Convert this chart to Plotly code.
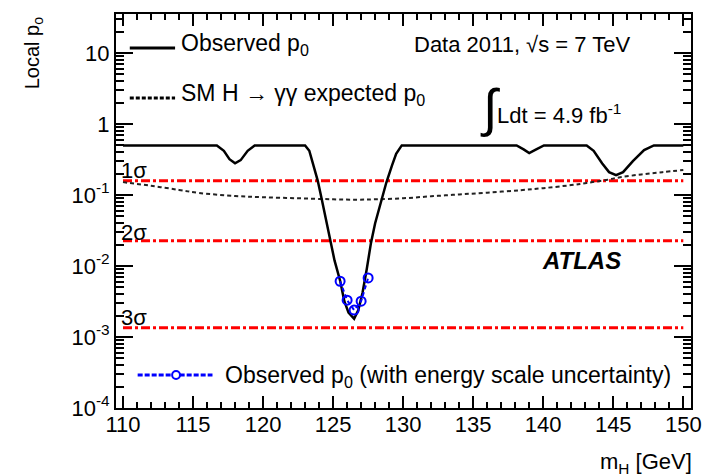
import plotly.graph_objects as go

# ---------------- data ----------------
obs_mass = [110.0, 116.7, 117.2, 117.6, 118.0, 118.4, 118.9, 119.4, 123.0, 123.3, 123.6,
            123.9, 124.2, 124.5, 124.8, 125.1, 125.5, 125.8, 126.1, 126.5, 126.8, 127.1,
            127.4, 127.7, 128.0, 128.4, 128.8, 129.2, 129.5, 129.9, 138.1, 138.6, 139.0,
            139.5, 140.05, 143.1, 143.6, 144.2, 144.7, 145.2, 145.7, 146.4, 147.2, 147.9,
            150.0]
obs_p0 = [0.5, 0.5, 0.42, 0.32, 0.28, 0.31, 0.42, 0.5, 0.5, 0.42, 0.26,
          0.16, 0.085, 0.045, 0.023, 0.012, 0.0062, 0.0032, 0.0022, 0.0018, 0.0024, 0.0042,
          0.009, 0.021, 0.04, 0.08, 0.15, 0.26, 0.38, 0.5, 0.5, 0.44, 0.39,
          0.44, 0.5, 0.5, 0.42, 0.28, 0.21, 0.19, 0.21, 0.3, 0.43, 0.5,
          0.5]

exp_mass = [110, 112, 114, 115.4, 118, 120, 122.5, 125, 126.7, 128, 130, 132, 134, 136,
            138.4, 140, 142, 143.1, 144.5, 145.5, 147, 148.5, 150]
exp_p0 = [0.152, 0.135, 0.118, 0.107, 0.097, 0.093, 0.090, 0.087, 0.086, 0.087, 0.090,
          0.096, 0.102, 0.108, 0.117, 0.125, 0.138, 0.148, 0.163, 0.178, 0.195, 0.21, 0.225]

ess_mass = [125.5, 126.0, 126.5, 127.0, 127.5]
ess_p0 = [0.0061, 0.0033, 0.0024, 0.0032, 0.0068]

sigma_labels = ["1σ", "2σ", "3σ"]
sigma_p0 = [0.1587, 0.02275, 0.00135]

x_ticks = [110, 115, 120, 125, 130, 135, 140, 145, 150]
y_ticks = [1e-4, 1e-3, 1e-2, 1e-1, 1, 10]
y_ticktext = ["10<sup>-4</sup>", "10<sup>-3</sup>", "10<sup>-2</sup>", "10<sup>-1</sup>", "1", "10"]
y_minor = [k * 10.0 ** e for e in range(-4, 2) for k in range(2, 10)]

FONT = "Liberation Sans, Arial, sans-serif"

fig = go.Figure()

# sigma lines
for p in sigma_p0:
    fig.add_trace(go.Scatter(x=[110, 150], y=[p, p], mode="lines",
                             line=dict(color="#ff0000", width=3, dash="9px,3px,3px,3px"),
                             showlegend=False, hoverinfo="skip"))

fig.add_trace(go.Scatter(x=exp_mass, y=exp_p0, mode="lines",
                         line=dict(color="#222222", width=2, dash="4px,3px", shape="spline"),
                         showlegend=False))
fig.add_trace(go.Scatter(x=obs_mass, y=obs_p0, mode="lines",
                         line=dict(color="#000000", width=2.5),
                         showlegend=False))
fig.add_trace(go.Scatter(x=ess_mass, y=ess_p0, mode="lines+markers",
                         line=dict(color="#0000ff", width=2, dash="4px,3px"),
                         marker=dict(symbol="circle-open", size=9, color="#0000ff",
                                     line=dict(width=2, color="#0000ff")),
                         showlegend=False))

# layout geometry (figure pixels -> plot-area fractions)
W, H = 714, 476
L, R, T, B = 116, 14, 14, 68
PW, PH = W - L - R, H - T - B
def px(x):
    return (x - L) / PW
def py(y):
    return (H - B - y) / PH

shapes = [
    dict(type="line", xref="paper", yref="paper", x0=px(130), x1=px(176), y0=py(48), y1=py(48),
         line=dict(color="black", width=3)),
    dict(type="line", xref="paper", yref="paper", x0=px(130), x1=px(176), y0=py(98), y1=py(98),
         line=dict(color="black", width=3, dash="4px,2px")),
    dict(type="line", xref="paper", yref="paper", x0=px(138), x1=px(214), y0=py(375), y1=py(375),
         line=dict(color="#0000ff", width=3, dash="5px,2px")),
    dict(type="circle", xref="paper", yref="paper", x0=px(173), x1=px(181), y0=py(379), y1=py(371),
         line=dict(color="#0000ff", width=2), fillcolor="white"),
]

ann = []
def text(x, y, t, size=23, xanchor="left", yanchor="middle", **kw):
    ann.append(dict(x=px(x), y=py(y), xref="paper", yref="paper", text=t, showarrow=False,
                    xanchor=xanchor, yanchor=yanchor,
                    font=dict(family=FONT, size=size, color="black"), **kw))

text(180, 45, "Observed p<sub>0</sub>")
text(180, 94, "SM H → γγ expected p<sub>0</sub>")
text(225, 376, "Observed p<sub>0</sub> (with energy scale uncertainty)")
text(528, 45, "Data 2011, √s = 7 TeV", size=22, xanchor="center")
text(484, 108, "∫", size=52)
text(501, 114, "Ldt = 4.9 fb<sup>-1</sup>", size=22)
text(589, 260, "<b><i>ATLAS</i></b>", size=24, xanchor="center")
for lab, yy in zip(sigma_labels, [170, 232, 317]):
    text(119, yy, lab, size=22)
text(703, 463, "m<sub>H</sub> [GeV]", size=22, xanchor="right")
text(32, 53, "Local p<sub>o</sub>", size=20, xanchor="center", textangle=-90)

fig.update_layout(
    width=W, height=H,
    margin=dict(l=L, r=R, t=T, b=B),
    paper_bgcolor="white", plot_bgcolor="white",
    shapes=shapes, annotations=ann, showlegend=False,
    font=dict(family=FONT, size=22, color="black"),
)
fig.update_xaxes(range=[109.5, 150.55], tickvals=x_ticks, ticks="inside", ticklen=12,
                 tickwidth=1.5, tickcolor="black", showline=True, linecolor="black",
                 linewidth=2, mirror="allticks", showgrid=False, zeroline=False,
                 tickfont=dict(family=FONT, size=22), ticklabelstandoff=-4,
                 minor=dict(dtick=1, tick0=110, ticks="inside", ticklen=6, tickcolor="black",
                            tickwidth=1.5, showgrid=False))
fig.update_yaxes(type="log", range=[-4, 1.55], tickvals=y_ticks, ticktext=y_ticktext,
                 ticks="inside", ticklen=17, tickwidth=1.5, tickcolor="black",
                 showline=True, linecolor="black", linewidth=2, mirror="allticks",
                 showgrid=False, zeroline=False, tickfont=dict(family=FONT, size=22),
                 minor=dict(tickvals=y_minor, ticks="inside", ticklen=8, tickcolor="black",
                            tickwidth=1.5, showgrid=False))

fig.write_html("out.html")
